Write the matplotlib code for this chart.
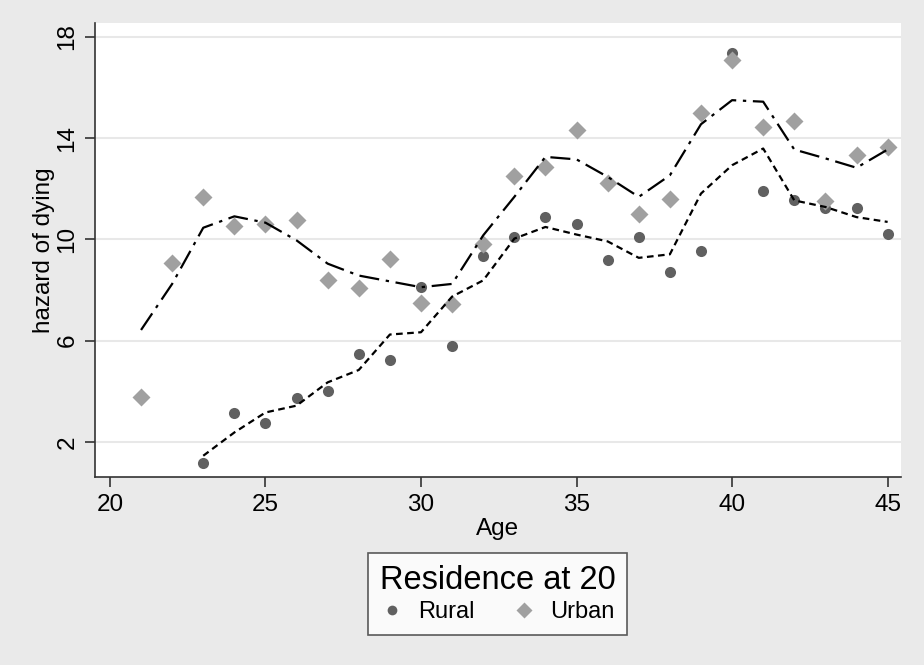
import numpy as np
import matplotlib.pyplot as plt
from matplotlib.lines import Line2D

plt.rcParams['font.family'] = ['Liberation Sans', 'DejaVu Sans']

# observed hazards by age
age_urban = list(range(21, 46))
urban = [3.78, 9.08, 11.68, 10.51, 10.62, 10.75, 8.40, 8.07, 9.21, 7.49,
         7.43, 9.80, 12.51, 12.87, 14.32, 12.23, 11.02, 11.58, 14.98, 17.09,
         14.45, 14.67, 11.50, 13.33, 13.66]
age_rural = list(range(23, 46))
rural = [1.18, 3.12, 2.74, 3.72, 3.99, 5.46, 5.25, 8.11, 5.79, 9.35,
         10.09, 10.88, 10.59, 9.17, 10.08, 8.72, 9.54, 17.35, 11.93, 11.57,
         11.24, 11.24, 10.20]

# smoothed hazards
urban_smooth = [6.42, 8.24, 10.46, 10.91, 10.66, 9.96, 9.04, 8.57, 8.34, 8.11,
                8.24, 10.16, 11.68, 13.26, 13.16, 12.47, 11.68, 12.53, 14.55, 15.50,
                15.44, 13.55, 13.20, 12.83, 13.55]
rural_smooth = [1.45, 2.37, 3.16, 3.43, 4.35, 4.84, 6.24, 6.33, 7.74, 8.38,
                10.03, 10.49, 10.19, 9.92, 9.27, 9.41, 11.81, 12.93, 13.59, 11.54,
                11.28, 10.88, 10.69]

xticks = [20, 25, 30, 35, 40, 45]
yticks = [2, 6, 10, 14, 18]

bg = '#eaeaea'
c_rural = '#606060'
c_urban = '#a0a0a0'

fig = plt.figure(figsize=(9.24, 6.65), dpi=100, facecolor=bg)
ax = fig.add_axes([95 / 924, 1 - 477 / 665, (901 - 95) / 924, (477 - 23) / 665])
ax.set_facecolor('white')

ax.plot(age_rural, rural, 'o', color=c_rural, ms=8, mec='none', zorder=3)
ax.plot(age_urban, urban, 'D', color=c_urban, ms=9, mec='none', zorder=3)
ax.plot(age_rural, rural_smooth, color='black', lw=1.6, ls=(0, (3, 2)), zorder=4)
ax.plot(age_urban, urban_smooth, color='black', lw=1.6, ls=(0, (9, 3, 1.5, 3)), zorder=4)

ax.set_xlim(19.52, 45.43)
ax.set_ylim(0.61, 18.55)
ax.set_xticks(xticks)
ax.set_yticks(yticks)
ax.set_yticklabels([str(t) for t in yticks], rotation=90, va='center')
ax.grid(axis='y', color='#e8e8e8', lw=1.5)
ax.set_axisbelow(True)

for s in ['top', 'right']:
    ax.spines[s].set_visible(False)
for s in ['left', 'bottom']:
    ax.spines[s].set_color('#333333')
    ax.spines[s].set_linewidth(1.2)
ax.tick_params(axis='both', colors='#333333', labelcolor='black', labelsize=17.5,
               length=7, width=1.2, direction='out')
ax.tick_params(axis='y', pad=5)
ax.tick_params(axis='x', pad=5)

ax.set_xlabel('Age', fontsize=17.5, labelpad=2)
ax.set_ylabel('hazard of dying', fontsize=17.5, labelpad=1)

handles = [
    Line2D([], [], marker='o', ls='none', color=c_rural, mec='none', ms=7, label='Rural'),
    Line2D([], [], marker='D', ls='none', color=c_urban, mec='none', ms=8, label='Urban'),
]
leg = fig.legend(handles=handles, ncol=2, loc='center',
                 bbox_to_anchor=(497.5 / 924, 1 - 594 / 665),
                 title='Residence at 20', fontsize=17, title_fontsize=23.5,
                 frameon=True, fancybox=False, edgecolor='#333333',
                 handlelength=1.0, handletextpad=0.6, columnspacing=1.6,
                 borderpad=0.5, labelspacing=0.2)
leg.get_frame().set_linewidth(1.2)

fig.savefig('out.png', dpi=100, facecolor=bg)
